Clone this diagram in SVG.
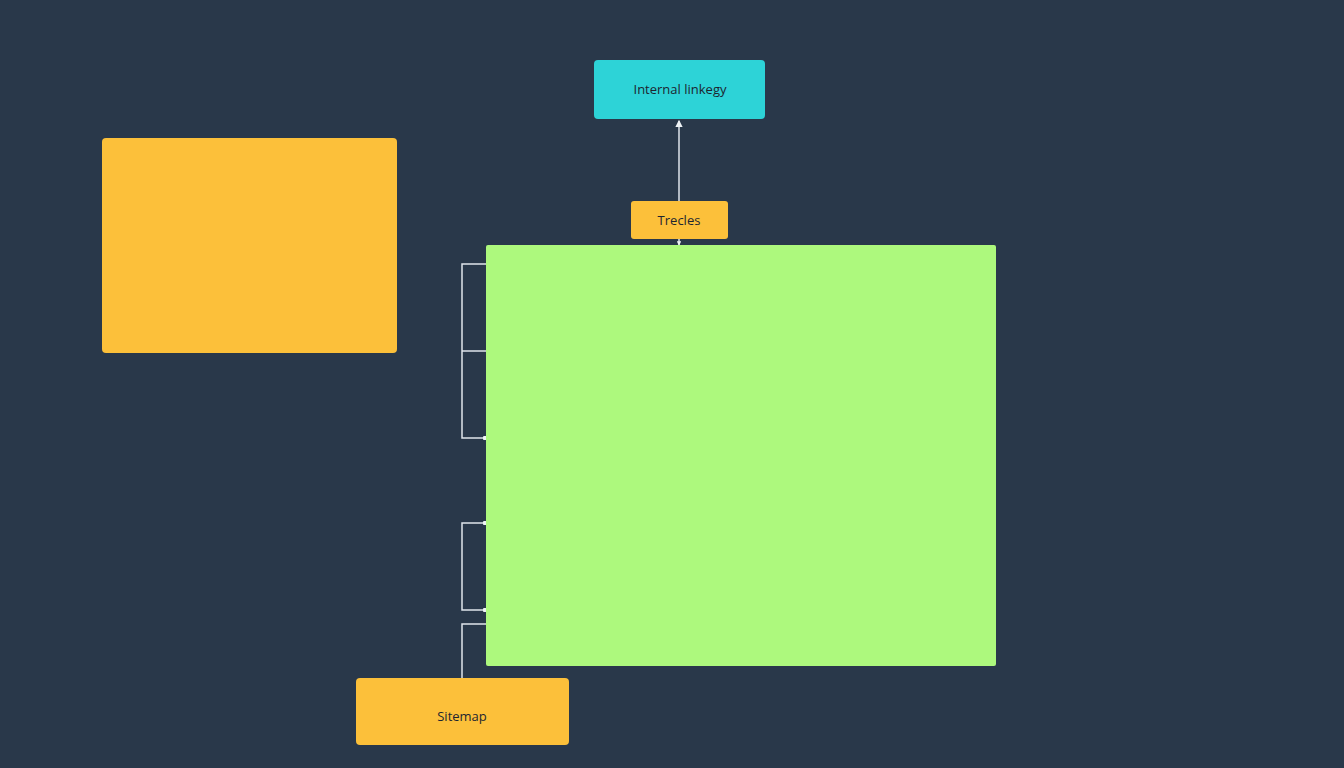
<svg xmlns="http://www.w3.org/2000/svg" width="1344" height="768" viewBox="0 0 1344 768">
<style>
.lbl{font-family:"Open Sans","Liberation Sans",sans-serif;font-size:13px;fill:#1d2530;text-anchor:middle;dominant-baseline:central}
.orange{fill:#fcc03a}
.conn{fill:none;stroke:#dfe5ec;stroke-width:1.5}
</style>
<defs>
<marker id="ah" viewBox="0 0 6 6" refX="5" refY="3" markerWidth="5" markerHeight="5" orient="auto"><path d="M0,0 L6,3 L0,6 z" fill="#eef2f5"/></marker>
<marker id="ahs" viewBox="0 0 6 6" refX="5" refY="3" markerWidth="3" markerHeight="3" orient="auto"><path d="M0,0 L6,3 L0,6 z" fill="#eef2f5"/></marker>
<marker id="dot" viewBox="0 0 4 4" refX="2" refY="2" markerWidth="3" markerHeight="3"><circle cx="2" cy="2" r="2" fill="#eef2f5"/></marker>
</defs>
<rect width="1344" height="768" fill="#29384a"/>
<g id="connectors">
<path class="conn" d="M679,201 L679,121" marker-end="url(#ah)"/>
<path class="conn" d="M679,239 L679,245" marker-end="url(#ahs)"/>
<path class="conn" d="M486,264 L462,264 L462,438 L485,438" marker-end="url(#dot)"/>
<path class="conn" d="M462,351 L486,351"/>
<path class="conn" d="M485,523 L462,523 L462,610 L485,610" marker-start="url(#dot)" marker-end="url(#dot)"/>
<path class="conn" d="M486,624 L462,624 L462,678"/>
</g>
<g id="node-internal">
<rect x="594" y="60" width="171" height="59" rx="4" fill="#2dd3d7"/>
<text class="lbl" x="680" y="89">Internal linkegy</text>
</g>
<g id="node-trecles">
<rect x="631" y="201" width="97" height="38" rx="3" class="orange"/>
<text class="lbl" x="679" y="220">Trecles</text>
</g>
<g id="node-yellow">
<rect x="102" y="138" width="295" height="215" rx="4" class="orange"/>
</g>
<g id="node-green">
<rect x="486" y="245" width="510" height="421" rx="2" fill="#adf97d"/>
</g>
<g id="node-sitemap">
<rect x="356" y="678" width="213" height="67" rx="4" class="orange"/>
<text class="lbl" x="462" y="716">Sitemap</text>
</g>
</svg>
